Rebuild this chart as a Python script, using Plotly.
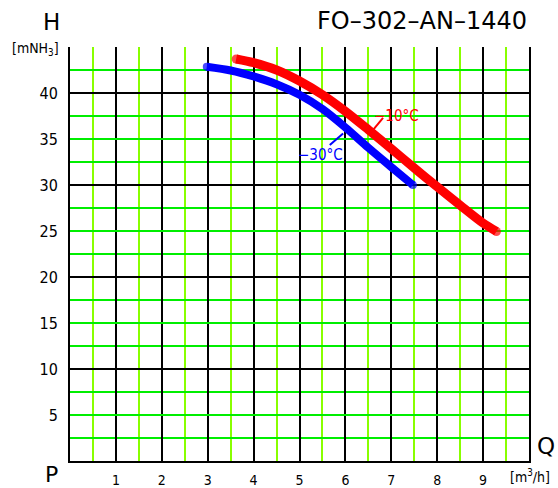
import plotly.graph_objects as go

# ---- data ----
q_m10 = [3.62, 4.0, 4.5, 5.0, 5.5, 6.0, 6.5, 7.0, 7.5, 8.0, 8.5, 9.0, 9.29]
h_m10 = [43.7, 43.3, 42.5, 41.3, 39.8, 38.0, 36.0, 33.95, 31.85, 29.8, 27.8, 25.85, 24.95]
q_m30 = [2.98, 3.5, 4.0, 4.5, 5.0, 5.5, 6.0, 6.5, 7.0, 7.47]
h_m30 = [42.85, 42.45, 41.8, 40.95, 39.8, 38.25, 36.25, 34.05, 31.95, 30.0]
x_ticks = [1, 2, 3, 4, 5, 6, 7, 8, 9]
y_ticks = [5, 10, 15, 20, 25, 30, 35, 40]
title_text = "FO–302–AN–1440"

FONT = "DejaVu Sans Condensed, Liberation Sans Narrow, DejaVu Sans, sans-serif"
FONT_W = "DejaVu Sans, sans-serif"
W, H = 558, 488
L, R, T, B = 70, 29, 47, 27
PW, PH = W - L - R, H - T - B
BLACK = "#000000"
GREEN_H = "#00ee00"
GREEN_V = "#88ff00"


def px(x):
    return (x - L) / PW


def py(y):
    return (H - B - y) / PH


def end_sizes(n, s):
    return [s] + [0] * (n - 2) + [s]


fig = go.Figure()
fig.add_trace(go.Scatter(
    x=q_m30, y=h_m30, mode="lines+markers",
    line=dict(color="#0000ff", width=8, shape="spline", smoothing=0.8),
    marker=dict(color="#0000ff", size=end_sizes(len(q_m30), 8), line=dict(width=0)),
    hoverinfo="skip", showlegend=False))
fig.add_trace(go.Scatter(
    x=q_m10, y=h_m10, mode="lines+markers",
    line=dict(color="#ff0000", width=9, shape="spline", smoothing=0.8),
    marker=dict(color="#ff0000", size=end_sizes(len(q_m10), 9), line=dict(width=0)),
    hoverinfo="skip", showlegend=False, yaxis="y2"))

fig.update_layout(
    width=W, height=H, margin=dict(l=L, r=R, t=T, b=B, autoexpand=False),
    paper_bgcolor="white", plot_bgcolor="white",
    font=dict(family=FONT, color=BLACK),
    showlegend=False,
    xaxis=dict(range=[0, 10], tickvals=x_ticks, ticktext=[str(v) for v in x_ticks],
               showgrid=True, gridcolor=BLACK, gridwidth=2,
               minor=dict(dtick=0.5, tick0=0, showgrid=True, gridcolor=GREEN_V, gridwidth=2),
               showline=True, linecolor=BLACK, linewidth=2, zeroline=False, ticks="",
               tickfont=dict(size=14, family=FONT), ticklabelstandoff=5, fixedrange=True,
               automargin=False),
    yaxis=dict(range=[0, 45], tickvals=y_ticks, ticktext=[str(v) for v in y_ticks],
               showgrid=True, gridcolor=GREEN_H, gridwidth=2,
               minor=dict(dtick=2.5, tick0=0, showgrid=True, gridcolor=GREEN_H, gridwidth=2),
               showline=True, mirror=True, linecolor=BLACK, linewidth=2, zeroline=False, ticks="",
               tickfont=dict(size=16, family=FONT), ticklabelstandoff=7, fixedrange=True,
               automargin=False),
    yaxis2=dict(range=[0, 45], overlaying="y", side="left", dtick=10, tick0=0,
                showgrid=True, gridcolor=BLACK, gridwidth=2, showticklabels=False,
                showline=False, zeroline=False, ticks="", fixedrange=True, automargin=False),
)

annos = [
    dict(text="H", x=px(51), y=py(22), size=23),
    dict(text="[mNH<sub>3</sub>]", x=px(35), y=py(49), size=14),
    dict(text="P", x=px(51), y=py(475), size=22),
    dict(text="Q", x=px(546), y=py(446), size=23),
    dict(text="[m<sup>3</sup>/h]", x=px(530), y=py(476), size=14),
]
for a in annos:
    fig.add_annotation(text=a["text"], x=a["x"], y=a["y"], xref="paper", yref="paper",
                       showarrow=False, xanchor="center", yanchor="middle",
                       font=dict(size=a["size"], family=FONT_W if a["size"] > 20 else FONT,
                                 color=BLACK))
fig.add_annotation(text=title_text, x=px(529), y=py(21), xref="paper", yref="paper",
                   showarrow=False, xanchor="right", yanchor="middle",
                   font=dict(size=24, family=FONT_W, color=BLACK))

# curve labels with leader lines
fig.add_annotation(text="−10°C", x=7.12, y=37.5, xref="x", yref="y", showarrow=False,
                   font=dict(size=15, family=FONT, color="#ff0000"))
fig.add_annotation(text="−30°C", x=5.46, y=33.3, xref="x", yref="y", showarrow=False,
                   font=dict(size=15, family=FONT, color="#0000ff"))
fig.add_shape(type="line", x0=6.54, y0=35.6, x1=6.82, y1=37.3, xref="x", yref="y",
              line=dict(color="#ff0000", width=2))
fig.add_shape(type="line", x0=5.66, y0=34.35, x1=5.95, y1=35.6, xref="x", yref="y",
              line=dict(color="#0000ff", width=2))

fig.write_html("out.html", config=dict(displayModeBar=False),
               post_script="document.body.style.margin='0';document.body.style.overflow='hidden';")
